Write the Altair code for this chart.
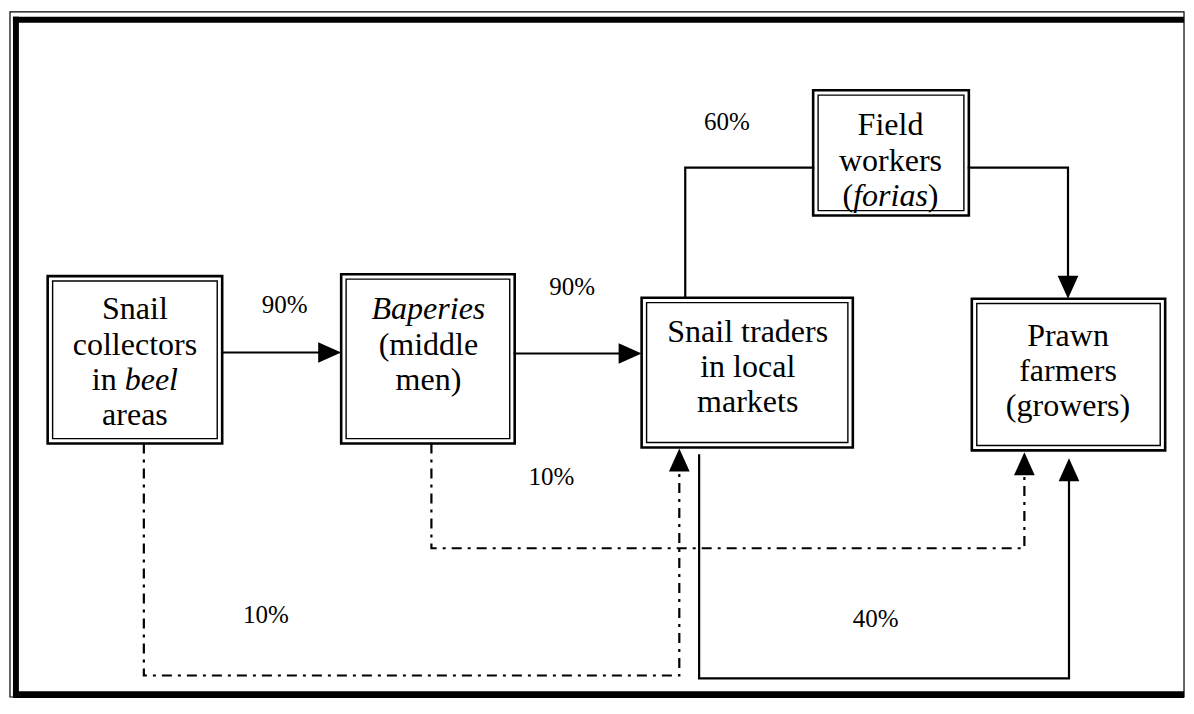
import altair as alt
import pandas as pd

# ---------------- data ----------------
box_id = ["collectors", "baperies", "traders", "farmers", "field"]
box_left = [46, 342, 645, 978, 818]
box_right = [222, 517, 858, 1173, 975]
box_top = [282, 280, 304, 305, 92]
box_bottom = [453, 453, 457, 460, 220]
box_text_x = [134, 430, 752, 1075, 896]
box_text_y0 = [316, 316, 339, 343, 128]
box_line_gap = 36

box_lines = [
    [[("Snail", "normal")], [("collectors", "normal")],
     [("in ", "normal"), ("beel", "italic")], [("areas", "normal")]],
    [[("Baperies", "italic")], [("(middle", "normal")], [("men)", "normal")]],
    [[("Snail traders", "normal")], [("in local", "normal")], [("markets", "normal")]],
    [[("Prawn", "normal")], [("farmers", "normal")], [("(growers)", "normal")]],
    [[("Field", "normal")], [("workers", "normal")],
     [("(", "normal"), ("forias", "italic"), (")", "normal")]],
]

flow_pct = ["90%", "90%", "60%", "10%", "10%", "40%"]
flow_label_x = [285, 575, 731, 554, 266, 881]
flow_label_y = [311, 293, 124, 487, 628, 632]

flow_paths = [
    [(222, 360), (342, 360)],
    [(517, 361), (645, 361)],
    [(689, 304), (689, 171), (818, 171)],
    [(975, 171), (1075, 171), (1075, 305)],
    [(433, 453), (433, 560), (1031, 560), (1031, 462)],
    [(143, 453), (143, 690), (683, 690), (683, 458)],
    [(703, 465), (703, 693), (1076, 693), (1076, 468)],
]
flow_style = ["solid", "solid", "solid", "solid", "dashdot", "dashdot", "solid"]
flow_arrow = [True, True, False, True, True, True, True]

# ---------------- layout helpers ----------------
FONT = "'Liberation Serif', 'Times New Roman', Times, serif"
BOX_FS = 32
LAB_FS = 25
ARROW_HALF = 11.5
XS = 1178 / (1194 - 6)
YS = 690 / (713 - 8)

w_norm = {"i": .278, "n": .5, " ": .25, "(": .333, ")": .333}
w_ital = {"b": .5, "e": .444, "l": .278, "f": .278, "o": .5, "r": .389,
          "i": .278, "a": .5, "s": .389}


def seg_width(t, style):
    tab = w_ital if style == "italic" else w_norm
    return sum(tab.get(c, .5) for c in t) * BOX_FS / XS


text_rows = []
for bi, lines in enumerate(box_lines):
    for li, segs in enumerate(lines):
        y = box_text_y0[bi] + li * box_line_gap
        if len(segs) == 1:
            text_rows.append(dict(text=segs[0][0], x=box_text_x[bi], y=y,
                                  style=segs[0][1], align="center"))
        else:
            total = sum(seg_width(t, s) for t, s in segs)
            cx = box_text_x[bi] - total / 2
            for t, s in segs:
                text_rows.append(dict(text=t, x=cx, y=y, style=s, align="left"))
                cx += seg_width(t, s)
text_df = pd.DataFrame(text_rows)

boxes = pd.DataFrame(dict(id=box_id, x=box_left, x2=box_right, y=box_top, y2=box_bottom))
inner = boxes.assign(x=boxes.x + 5, x2=boxes.x2 - 5, y=boxes.y + 5, y2=boxes.y2 - 5)

line_rows, arrow_rows = [], []
shape_up = "M0,-1L0.9,1L-0.9,1Z"
shape_down = "M0,1L0.9,-1L-0.9,-1Z"
shape_right = "M1,0L-1,0.9L-1,-0.9Z"
for pi, pts in enumerate(flow_paths):
    pts = list(pts)
    if flow_arrow[pi]:
        (x0, y0), (x1, y1) = pts[-2], pts[-1]
        if x1 > x0:
            dx, dy, shp = 1, 0, shape_right
            half = ARROW_HALF / XS
        elif y1 > y0:
            dx, dy, shp = 0, 1, shape_down
            half = ARROW_HALF / YS
        else:
            dx, dy, shp = 0, -1, shape_up
            half = ARROW_HALF / YS
        arrow_rows.append(dict(x=x1 - dx * half, y=y1 - dy * half, shape=shp))
        pts[-1] = (x1 - dx * 2 * half * 0.9, y1 - dy * 2 * half * 0.9)
    for oi, (x, y) in enumerate(pts):
        line_rows.append(dict(path=pi, order=oi, x=x, y=y, style=flow_style[pi]))
lines_df = pd.DataFrame(line_rows)
arrows_df = pd.DataFrame(arrow_rows)

labels_df = pd.DataFrame(dict(text=flow_pct, x=flow_label_x, y=flow_label_y))

frame_thin = pd.DataFrame(dict(x=[8], x2=[1192], y=[12], y2=[712]))
frame_thick = pd.DataFrame(dict(x=[11, 11, 11], x2=[17, 1192, 1192],
                                y=[17, 17, 706], y2=[712, 23, 713]))

# ---------------- chart ----------------
xs = alt.Scale(domain=[6, 1194], nice=False, zero=False)
ys = alt.Scale(domain=[8, 713], nice=False, zero=False, reverse=True)


def X(f="x"):
    return alt.X(f"{f}:Q", scale=xs, axis=None)


def Y(f="y"):
    return alt.Y(f"{f}:Q", scale=ys, axis=None)


layers = []
layers.append(alt.Chart(frame_thin).mark_rect(fillOpacity=0, stroke="black", strokeWidth=1.2)
              .encode(x=X(), x2="x2:Q", y=Y(), y2="y2:Q"))
layers.append(alt.Chart(frame_thick).mark_rect(color="black")
              .encode(x=X(), x2="x2:Q", y=Y(), y2="y2:Q"))
layers.append(alt.Chart(boxes).mark_rect(fillOpacity=0, stroke="black", strokeWidth=2.6)
              .encode(x=X(), x2="x2:Q", y=Y(), y2="y2:Q"))
layers.append(alt.Chart(inner).mark_rect(fillOpacity=0, stroke="black", strokeWidth=1.4)
              .encode(x=X(), x2="x2:Q", y=Y(), y2="y2:Q"))

solid = lines_df[lines_df["style"] == "solid"]
dashed = lines_df[lines_df["style"] == "dashdot"]
layers.append(alt.Chart(solid).mark_line(color="black", strokeWidth=2.2, strokeCap="square")
              .encode(x=X(), y=Y(), detail="path:N", order="order:Q"))
layers.append(alt.Chart(dashed).mark_line(color="black", strokeWidth=2.2, strokeDash=[10, 6, 3, 6])
              .encode(x=X(), y=Y(), detail="path:N", order="order:Q"))
layers.append(alt.Chart(arrows_df).mark_point(filled=True, opacity=1, color="black",
                                              strokeWidth=0, size=(2 * ARROW_HALF) ** 2)
              .encode(x=X(), y=Y(), shape=alt.Shape("shape:N", scale=None)))

for style in ["normal", "italic"]:
    for align in ["center", "left"]:
        sub = text_df[(text_df["style"] == style) & (text_df["align"] == align)]
        if len(sub) == 0:
            continue
        layers.append(alt.Chart(sub).mark_text(font=FONT, fontSize=BOX_FS, fontStyle=style,
                                               align=align, baseline="middle", color="black")
                      .encode(x=X(), y=Y(), text="text:N"))

layers.append(alt.Chart(labels_df).mark_text(font=FONT, fontSize=LAB_FS, align="center",
                                             baseline="middle", color="black")
              .encode(x=X(), y=Y(), text="text:N"))

chart = (alt.layer(*layers)
         .properties(width=1178, height=690, autosize=alt.AutoSizeParams(type="none"),
                     padding=0, background="white")
         .configure_view(strokeWidth=0))

chart.save("out.html", embed_options={"renderer": "svg", "actions": False})
